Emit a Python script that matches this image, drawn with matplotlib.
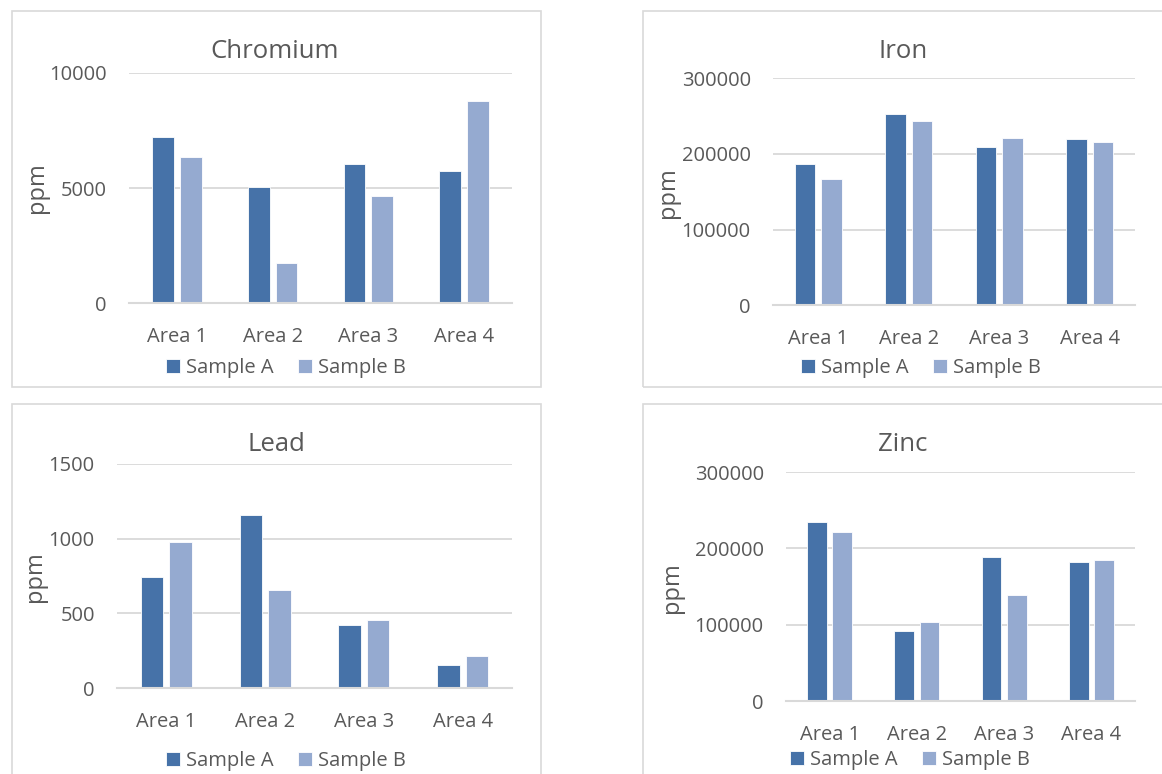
import matplotlib
matplotlib.use('Agg')
import matplotlib.pyplot as plt
import numpy as np
from matplotlib.patches import Rectangle

# data (ppm)
areas = ['Area 1', 'Area 2', 'Area 3', 'Area 4']
series = ['Sample A', 'Sample B']

chromium_a = [7200, 5060, 6050, 5750]
chromium_b = [6330, 1730, 4640, 8770]

iron_a = [186000, 252000, 209000, 219000]
iron_b = [167000, 243000, 221000, 215500]

lead_a = [745, 1157, 425, 156]
lead_b = [977, 657, 454, 216]

zinc_a = [235000, 92000, 189000, 182000]
zinc_b = [222000, 104000, 139500, 185000]

plt.rcParams['font.family'] = ['Open Sans', 'DejaVu Sans']

W, H = 1162, 774
col_a = '#4672a8'
col_b = '#95aad0'
txt = '#595959'
grid = '#d9d9d9'

fig = plt.figure(figsize=(W / 100, H / 100), dpi=100)


def px(x0, y0, x1, y1):
    # pixel box (top-left origin) -> figure fraction rect
    return [x0 / W, 1 - y1 / H, (x1 - x0) / W, (y1 - y0) / H]


# panel frames
for (x0, y0, x1, y1) in [(12, 11, 541, 387), (643, 11, 1175, 387),
                         (12, 404, 541, 790), (643, 404, 1175, 790)]:
    fig.patches.append(Rectangle((x0 / W, 1 - y1 / H), (x1 - x0) / W, (y1 - y0) / H,
                                 transform=fig.transFigure, fill=False,
                                 edgecolor=grid, lw=1.2))

panels = [
    ('Chromium', chromium_a, chromium_b, 10000, 5000, (129, 72.7, 512, 303.3), 275, 52, 37, 188, 286, 368),
    ('Iron', iron_a, iron_b, 300000, 100000, (773, 78, 1135, 305.3), 903, 52, 668, 193, 921, 368),
    ('Lead', lead_a, lead_b, 1500, 500, (117, 463.7, 512, 688.3), 276, 445, 35, 577, 286, 761),
    ('Zinc', zinc_a, zinc_b, 300000, 100000, (786, 472, 1135, 701.3), 903, 445, 672, 588, 910, 760),
]

x = np.arange(len(areas))
w = 0.227
off = 0.145

for title, a, b, ymax, step, box, tx, ty, lx, ly, gx, gy in panels:
    ax = fig.add_axes(px(*box))
    ax.bar(x - off, a, w, color=col_a, edgecolor='white', linewidth=0.6, label=series[0], zorder=3)
    ax.bar(x + off, b, w, color=col_b, edgecolor='white', linewidth=0.6, label=series[1], zorder=3)
    ax.set_xlim(-0.5, len(areas) - 0.5)
    ax.set_ylim(0, ymax)
    ax.set_yticks(np.arange(0, ymax + 1, step))
    ax.set_yticklabels([str(int(v)) for v in np.arange(0, ymax + 1, step)])
    ax.set_xticks(x)
    ax.set_xticklabels(areas)
    ax.grid(axis='y', color=grid, lw=1.3, zorder=0)
    ax.set_axisbelow(True)
    for s in ['top', 'right', 'left']:
        ax.spines[s].set_visible(False)
    ax.spines['bottom'].set_color(grid)
    ax.spines['bottom'].set_linewidth(1.5)
    ax.spines['bottom'].set_zorder(4)
    ax.tick_params(axis='y', length=0, pad=16, labelsize=14.5, labelcolor=txt)
    ax.tick_params(axis='x', length=0, pad=17, labelsize=14.5, labelcolor=txt)
    fig.text(tx / W, 1 - ty / H, title, ha='center', va='center', fontsize=18.5, color=txt)
    fig.text(lx / W, 1 - ly / H, 'ppm', ha='center', va='center', rotation=90, fontsize=17, color=txt)
    ax.legend(loc='center', bbox_to_anchor=(gx / W, 1 - gy / H), bbox_transform=fig.transFigure,
              ncol=2, frameon=False, fontsize=14.5, labelcolor=txt, handlelength=0.7,
              handleheight=0.7, handletextpad=0.3, columnspacing=1.2, borderpad=0)

fig.savefig('out.png', dpi=100, facecolor='white')
